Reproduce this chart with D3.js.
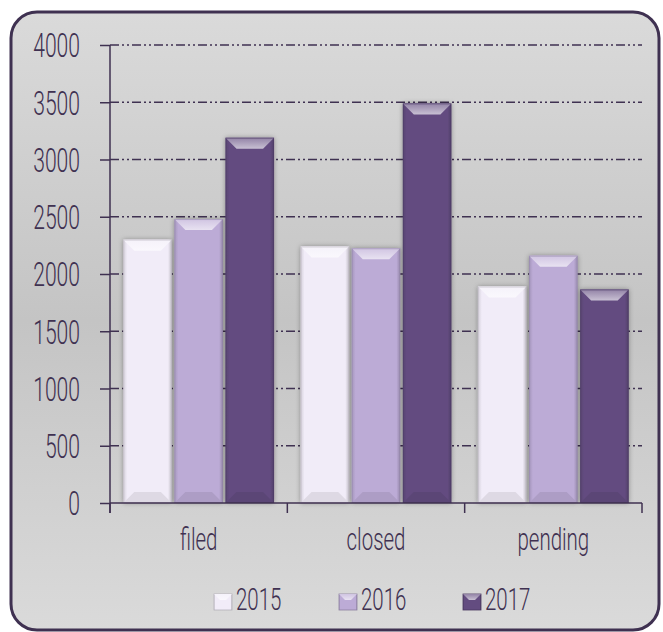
<!DOCTYPE html>
<html lang="en">
<head>
	<meta charset="UTF-8">
	<title>Cases</title>
	<script src="https://cdnjs.cloudflare.com/ajax/libs/d3/7.8.5/d3.min.js"></script>
	<style>
		body{
			margin: 0px;
			background: #fff;
		}
		text{
			font-family: Roboto, "DejaVu Sans", sans-serif;
			font-weight: 300;
			fill: #3f3151;
		}
	</style>
</head>
<body>
	<svg></svg>
	<script>
		var categories = ["filed", "closed", "pending"];
		var years = ["2015", "2016", "2017"];
		var values2015 = [2300, 2240, 1890];
		var values2016 = [2480, 2225, 2160];
		var values2017 = [3190, 3490, 1865];
		var yTicks = [0, 500, 1000, 1500, 2000, 2500, 3000, 3500, 4000];
		var colors = ["#f1ecf8", "#bcabd6", "#634c80"];

		var series = [values2015, values2016, values2017];
		var rows = categories.map(function(c, i) {
			return {cat: c, vals: years.map(function(y, j) { return {year: y, idx: j, v: series[j][i]}; })};
		});

		var w = 663, h = 632,
			sx = 0.64,
			svg = d3.select("svg").attr("width", w).attr("height", h),
			defs = svg.append("defs");

		// background gradient
		var bg = defs.append("linearGradient").attr("id", "bg").attr("x1", 0).attr("y1", 0).attr("x2", 0).attr("y2", 1);
		bg.append("stop").attr("offset", "0%").attr("stop-color", "#dadada");
		bg.append("stop").attr("offset", "50%").attr("stop-color", "#c4c4c4");
		bg.append("stop").attr("offset", "100%").attr("stop-color", "#dadada");

		var sh = defs.append("filter").attr("id", "shadow").attr("x", "-20%").attr("y", "-10%").attr("width", "140%").attr("height", "120%");
		sh.append("feDropShadow").attr("dx", 0).attr("dy", 0).attr("stdDeviation", 2.5).attr("flood-color", "#000").attr("flood-opacity", 0.35);

		colors.forEach(function(c, i) {
			var g = defs.append("linearGradient").attr("id", "body" + i).attr("x1", 0).attr("x2", 1).attr("y1", 0).attr("y2", 0);
			g.append("stop").attr("offset", "0%").attr("stop-color", d3.interpolateRgb(c, "#000")(0.12));
			g.append("stop").attr("offset", "8%").attr("stop-color", c);
			g.append("stop").attr("offset", "92%").attr("stop-color", c);
			g.append("stop").attr("offset", "100%").attr("stop-color", d3.interpolateRgb(c, "#000")(0.18));
			var t = defs.append("linearGradient").attr("id", "top" + i).attr("x1", 0).attr("x2", 0).attr("y1", 0).attr("y2", 1);
			t.append("stop").attr("offset", "0%").attr("stop-color", d3.interpolateRgb(c, "#fff")(0.3));
			t.append("stop").attr("offset", "100%").attr("stop-color", d3.interpolateRgb(c, "#fff")(0.65));
		});

		svg.append("rect")
			.attr("x", 11).attr("y", 12).attr("width", 648).attr("height", 618)
			.attr("rx", 26).attr("ry", 26)
			.attr("fill", "url(#bg)")
			.attr("stroke", "#3f3151").attr("stroke-width", 3);

		var x0 = d3.scaleBand().domain(categories).range([110, 642]);
		var x1 = d3.scaleBand().domain(years).range([13.3, x0.bandwidth() - 13.3]).paddingInner(0.05);
		var y = d3.scaleLinear().domain([0, 4000]).range([503, 45]);

		// gridlines
		svg.append("g").selectAll("line")
			.data(yTicks.filter(function(d) { return d > 0; }))
			.enter().append("line")
			.attr("x1", 110).attr("x2", 642)
			.attr("y1", function(d) { return y(d); }).attr("y2", function(d) { return y(d); })
			.attr("stroke", "#3f3151").attr("stroke-width", 1.5)
			.attr("stroke-dasharray", "9,3,2,3,2,3");

		// bars
		var bev = 11;
		var groups = svg.append("g").selectAll("g")
			.data(rows).enter().append("g")
			.attr("transform", function(d) { return "translate(" + x0(d.cat) + ",0)"; });

		var bars = groups.selectAll("g")
			.data(function(d) { return d.vals; })
			.enter().append("g");

		bars.append("rect")
			.attr("x", function(d) { return x1(d.year); })
			.attr("y", function(d) { return y(d.v); })
			.attr("width", x1.bandwidth())
			.attr("height", function(d) { return y(0) - y(d.v); })
			.attr("fill", function(d) { return "url(#body" + d.idx + ")"; })
			.attr("filter", "url(#shadow)");

		bars.append("path")
			.attr("d", function(d) {
				var xa = x1(d.year), xb = xa + x1.bandwidth(), ya = y(d.v);
				return "M" + xa + "," + ya + "L" + xb + "," + ya + "L" + (xb - bev) + "," + (ya + bev) + "L" + (xa + bev) + "," + (ya + bev) + "Z";
			})
			.attr("fill", function(d) { return "url(#top" + d.idx + ")"; });

		bars.append("path")
			.attr("d", function(d) {
				var xa = x1(d.year), xb = xa + x1.bandwidth(), yb = y(0);
				return "M" + xa + "," + yb + "L" + xb + "," + yb + "L" + (xb - bev) + "," + (yb - bev) + "L" + (xa + bev) + "," + (yb - bev) + "Z";
			})
			.attr("fill", function(d) { return d3.interpolateRgb(colors[d.idx], "#000")(0.08); });

		bars.append("rect")
			.attr("x", function(d) { return x1(d.year) + 0.5; })
			.attr("y", function(d) { return y(d.v) + 0.5; })
			.attr("width", x1.bandwidth() - 1)
			.attr("height", function(d) { return y(0) - y(d.v) - 1; })
			.attr("fill", "none")
			.attr("stroke", function(d) { return d3.interpolateRgb(colors[d.idx], "#000")(0.2); })
			.attr("stroke-opacity", 0.6);

		// y axis
		var yAxis = svg.append("g")
			.attr("transform", "translate(110,0)")
			.call(d3.axisLeft(y).tickValues(yTicks).tickFormat(d3.format("d")).tickSize(10).tickSizeOuter(0));
		yAxis.select(".domain").remove();
		yAxis.selectAll("line").attr("stroke", "#3f3151").attr("stroke-width", 1.5);
		yAxis.selectAll("text")
			.attr("font-size", 33)
			.attr("font-family", null)
			.attr("fill", "#3f3151")
			.attr("x", -30 / sx)
			.attr("dy", "0.36em")
			.attr("transform", "scale(" + sx + ",1)");
		svg.append("line").attr("x1", 110).attr("x2", 110).attr("y1", 45).attr("y2", 513)
			.attr("stroke", "#3f3151").attr("stroke-width", 1.5);

		// x axis
		svg.append("line").attr("x1", 110).attr("x2", 642).attr("y1", 503).attr("y2", 503)
			.attr("stroke", "#3f3151").attr("stroke-width", 1.5);
		svg.append("g").selectAll("line")
			.data(categories.map(function(c) { return x0(c); }).concat([642]))
			.enter().append("line")
			.attr("x1", function(d) { return d; }).attr("x2", function(d) { return d; })
			.attr("y1", 503).attr("y2", 513)
			.attr("stroke", "#3f3151").attr("stroke-width", 1.5);
		svg.append("g").selectAll("text")
			.data(categories).enter().append("text")
			.attr("transform", function(d) { return "translate(" + (x0(d) + x0.bandwidth() / 2) + ",550) scale(" + sx + ",1)"; })
			.attr("text-anchor", "middle")
			.attr("font-size", 32)
			.text(function(d) { return d; });

		// legend
		var legX = [214, 339, 463];
		var leg = svg.append("g").selectAll("g")
			.data(years).enter().append("g")
			.attr("transform", function(d, i) { return "translate(" + legX[i] + ",0)"; });
		leg.append("rect")
			.attr("x", 0).attr("y", 594).attr("width", 18).attr("height", 16)
			.attr("fill", function(d, i) { return "url(#body" + i + ")"; })
			.attr("stroke", function(d, i) { return d3.interpolateRgb(colors[i], "#000")(0.25); })
			.attr("stroke-width", 0.8);
		leg.append("path")
			.attr("d", "M0,594L18,594L12,600L6,600Z")
			.attr("fill", function(d, i) { return "url(#top" + i + ")"; });
		leg.append("text")
			.attr("transform", "translate(22,610) scale(" + sx + ",1)")
			.attr("font-size", 32)
			.text(function(d) { return d; });
	</script>
</body>
</html>
